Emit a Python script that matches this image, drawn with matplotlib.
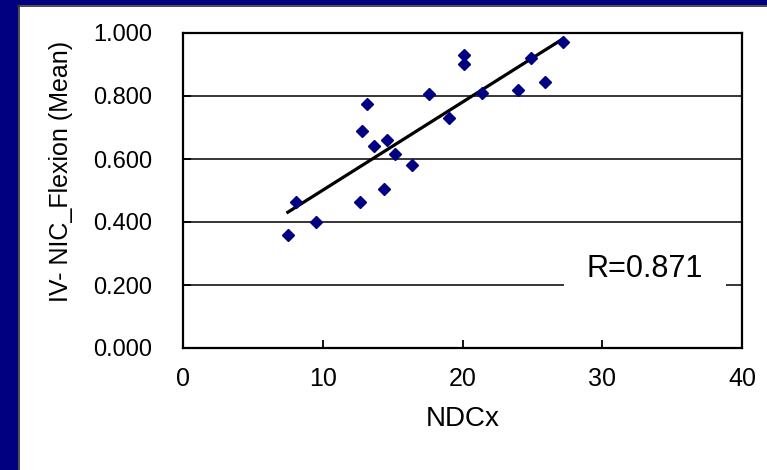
import matplotlib.pyplot as plt
import numpy as np
from matplotlib.patches import Rectangle

# NDCx vs IV-NIC flexion (mean)
ndcx = [7.5, 8.1, 9.5, 12.7, 12.8, 13.2, 13.7, 14.4, 14.6, 15.2,
        16.4, 17.6, 19.0, 20.1, 20.1, 21.4, 24.0, 24.9, 25.9, 27.2]
nic_flexion = [0.360, 0.465, 0.400, 0.465, 0.690, 0.775, 0.640, 0.505, 0.660, 0.615,
               0.580, 0.807, 0.730, 0.900, 0.930, 0.810, 0.820, 0.920, 0.845, 0.970]

x_ticks = [0, 10, 20, 30, 40]
y_ticks = [0.0, 0.2, 0.4, 0.6, 0.8, 1.0]
r_label = "R=0.871"

NAVY = '#000080'
W, H = 767, 470


def add_frame(fig):
    # navy slide border on the left and top
    fig.patches.append(Rectangle((0, 0), 18 / W, 1, transform=fig.transFigure,
                                 facecolor=NAVY, edgecolor='none', zorder=0))
    fig.patches.append(Rectangle((0, 1 - 5 / H), 1, 5 / H, transform=fig.transFigure,
                                 facecolor=NAVY, edgecolor='none', zorder=0))
    fig.add_artist(plt.Line2D([18.5 / W, 18.5 / W], [0, 1 - 5 / H], transform=fig.transFigure,
                              color='#303030', lw=1.2))
    fig.add_artist(plt.Line2D([18 / W, 1], [1 - 5.5 / H, 1 - 5.5 / H], transform=fig.transFigure,
                              color='#303030', lw=1.2))


def plot_chart():
    plt.rcParams['font.family'] = ['Liberation Sans', 'DejaVu Sans']

    fig = plt.figure(figsize=(W / 100, H / 100), dpi=100, facecolor='white')
    add_frame(fig)

    ax = fig.add_axes([183 / W, (H - 348) / H, 559 / W, 315 / H])

    x = np.array(ndcx)
    y = np.array(nic_flexion)

    # linear trend line over the data range
    k, b = np.polyfit(x, y, 1)
    xs = np.array([x.min(), x.max()])
    ax.plot(xs, k * xs + b, color='black', lw=2.3, zorder=3)

    ax.plot(x, y, linestyle='none', marker='D', ms=6.3, color=NAVY,
            markeredgecolor=NAVY, zorder=4)

    ax.set_xlim(0, 40)
    ax.set_ylim(0, 1.0)
    ax.set_xticks(x_ticks)
    ax.set_yticks(y_ticks)
    ax.set_yticklabels([f"{v:.3f}" for v in y_ticks])

    ax.grid(True, axis='y', color='black', lw=1.1)
    ax.set_axisbelow(True)
    for s in ax.spines.values():
        s.set_linewidth(1.6)
        s.set_color('black')

    ax.tick_params(axis='x', direction='in', length=6, width=1.3, labelsize=18, pad=13.5)
    ax.tick_params(axis='y', direction='in', length=6, width=1.3, labelsize=17, pad=22)

    ax.set_xlabel("NDCx", fontsize=20, labelpad=11)
    fig.text(61 / W, 1 - 171 / H, "IV- NIC_Flexion (Mean)", rotation=90,
             ha='center', va='center', fontsize=18)

    ax.text(0.826, 0.252, r_label, transform=ax.transAxes, ha='center', va='center',
            fontsize=22, zorder=5,
            bbox=dict(boxstyle='square,pad=0.75', facecolor='white', edgecolor='none'))

    fig.savefig('out.png', dpi=100, facecolor='white')


def main():
    plot_chart()


if __name__ == "__main__":
    main()
